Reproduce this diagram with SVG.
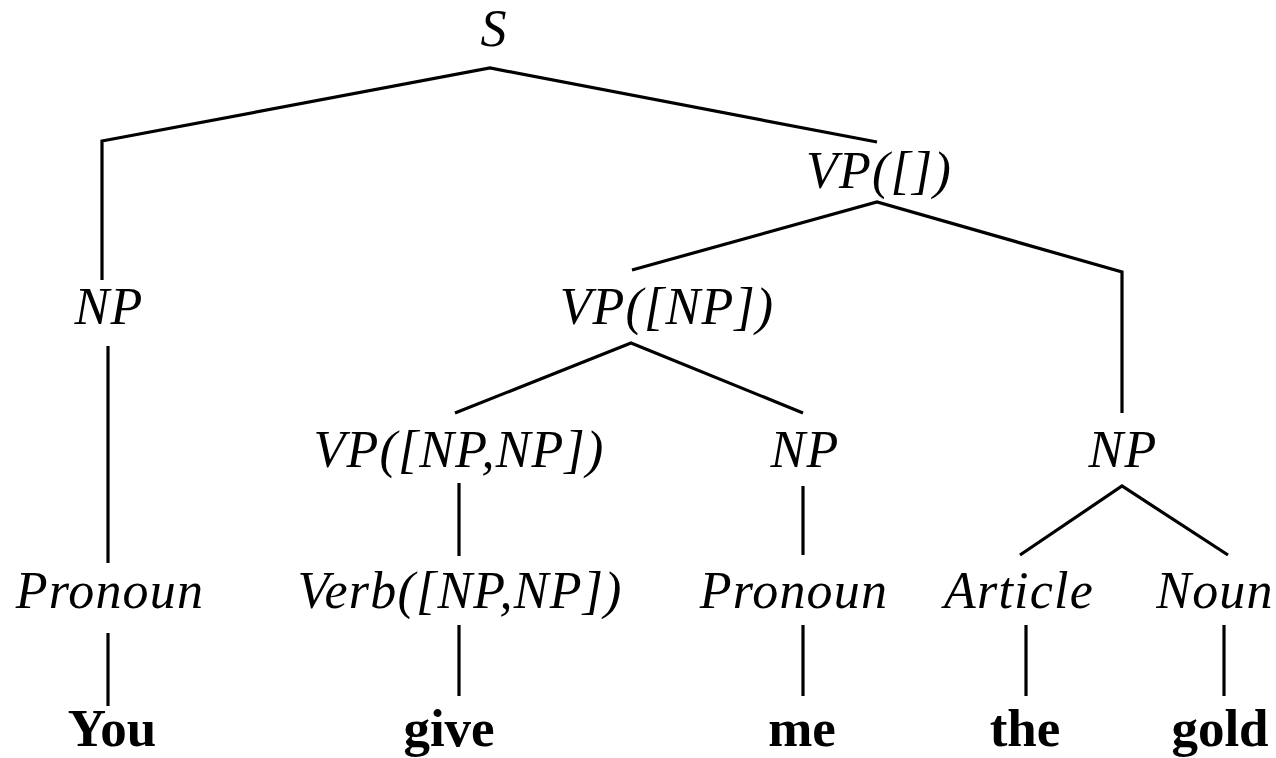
<svg xmlns="http://www.w3.org/2000/svg" width="1276" height="758" viewBox="0 0 1276 758">
<style>
.c{font-family:"Liberation Serif","Times New Roman",serif;font-style:italic;font-size:52px;letter-spacing:1.2px;fill:#000;text-anchor:middle}
.w{font-family:"Liberation Serif","Times New Roman",serif;font-weight:bold;font-size:53px;fill:#000;text-anchor:middle}
.e{fill:none;stroke:#000;stroke-width:3.2;stroke-linejoin:miter}
</style>
<rect width="1276" height="758" fill="#fff"/>
<g id="edges">
<polyline class="e" points="102,280 102,141 490,68 877,142"/>
<polyline class="e" points="632,270 877,202 1122,272 1122,413"/>
<polyline class="e" points="455,413 631,343 803,413"/>
<polyline class="e" points="1020,555 1122,486 1228,555"/>
<line class="e" x1="108" y1="346" x2="108" y2="563"/>
<line class="e" x1="108" y1="633" x2="108" y2="706"/>
<line class="e" x1="459" y1="483" x2="459" y2="556"/>
<line class="e" x1="459" y1="625" x2="459" y2="696"/>
<line class="e" x1="803" y1="486" x2="803" y2="555"/>
<line class="e" x1="803" y1="625" x2="803" y2="696"/>
<line class="e" x1="1026" y1="625" x2="1026" y2="696"/>
<line class="e" x1="1224" y1="625" x2="1224" y2="696"/>
</g>
<g id="n_S"><text class="c" x="494" y="46">S</text></g>
<g id="n_VP0"><text class="c" x="879" y="188">VP([])</text></g>
<g id="n_NP1"><text class="c" x="109" y="324">NP</text></g>
<g id="n_VP1"><text class="c" x="667" y="324">VP([NP])</text></g>
<g id="n_VP2"><text class="c" x="459" y="467">VP([NP,NP])</text></g>
<g id="n_NP2"><text class="c" x="805" y="467">NP</text></g>
<g id="n_NP3"><text class="c" x="1123" y="467">NP</text></g>
<g id="n_Pron1"><text class="c" x="110" y="608">Pronoun</text></g>
<g id="n_Verb"><text class="c" x="460" y="608">Verb([NP,NP])</text></g>
<g id="n_Pron2"><text class="c" x="794" y="608">Pronoun</text></g>
<g id="n_Art"><text class="c" x="1019" y="608">Article</text></g>
<g id="n_Noun"><text class="c" x="1215" y="608">Noun</text></g>
<g id="w_You"><text class="w" x="112" y="746">You</text></g>
<g id="w_give"><text class="w" x="449" y="746">give</text></g>
<g id="w_me"><text class="w" x="802" y="746">me</text></g>
<g id="w_the"><text class="w" x="1025" y="746">the</text></g>
<g id="w_gold"><text class="w" x="1220" y="746">gold</text></g>
</svg>
